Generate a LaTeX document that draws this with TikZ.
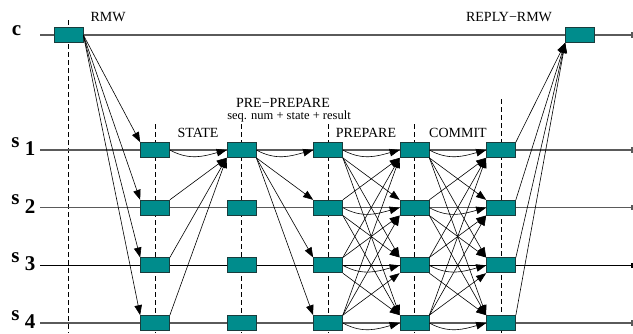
\documentclass[tikz,border=0pt]{standalone}
\usepackage{fontspec}
\setmainfont{Liberation Serif}
\usetikzlibrary{arrows.meta}
\definecolor{boxteal}{RGB}{0,140,140}
\definecolor{boxedge}{RGB}{25,60,60}
\definecolor{linegray}{RGB}{90,90,90}
\begin{document}
\begin{tikzpicture}[x=1pt,y=-1pt,
  box/.style={draw=boxedge, fill=boxteal, line width=0.7pt,
    minimum width=29pt, minimum height=15pt, inner sep=0pt},
  timeline/.style={draw=linegray, line width=1.3pt,
    -{Square[length=2.5pt,width=5.5pt]}},
  msg/.style={draw=black, line width=0.6pt,
    -{Triangle[length=10pt,width=7.5pt]}},
  guide/.style={draw=black, line width=0.6pt, dash pattern=on 5pt off 3pt},
  lbl/.style={font=\fontsize{14}{14}\selectfont, anchor=base, inner sep=0pt},
  small/.style={font=\fontsize{12.5}{12.5}\selectfont, anchor=base, inner sep=0pt},
  proc/.style={font=\fontsize{21}{21}\selectfont\bfseries, anchor=base, inner sep=0pt}]
\useasboundingbox (0,0) rectangle (633,333);

% phase guides
\foreach \n/\x/\t in {g0/68.5/20, g1/155/124, g2/241.5/124, g3/328/124, g4/414.5/124, g5/501/99} {
  \coordinate (\n t) at (\x,\t);
  \coordinate (\n b) at (\x,333);
  \draw[guide] (\n t) -- (\n b);
}

% process time lines
\coordinate (cL) at (40,35);      \coordinate (cR) at (633,35);
\coordinate (s1L) at (40,150);    \coordinate (s1R) at (633,150);
\coordinate (s2L) at (40,207.7);  \coordinate (s2R) at (633,207.7);
\coordinate (s3L) at (40,265.3);  \coordinate (s3R) at (633,265.3);
\coordinate (s4L) at (40,323);    \coordinate (s4R) at (633,323);
\draw[timeline] (cL) -- (cR);
\draw[timeline] (s1L) -- (s1R);
\draw[timeline] (s2L) -- (s2R);
\draw[timeline, draw=black] (s3L) -- (s3R);
\draw[timeline] (s4L) -- (s4R);

% process names
\node[proc] (cn) at (16.5,35) {c};
\foreach \i in {1,...,4} {
  \node[proc] (s\i n) at (15.5,{147+57.67*(\i-1)}) {s};
  \node[proc] (s\i k) at (30,{155.5+57.67*(\i-1)}) {\i};
}

% message boxes
\node[box] (c0) at (68.5,35) {};
\node[box] (rr) at (580,35) {};
\foreach \j in {1,...,5} {
  \foreach \i in {1,...,4} {
    \node[box] (b\j\i) at ({155+86.5*(\j-1)},{150+57.67*(\i-1)}) {};
  }
}

% request to all replicas
\foreach \i in {1,...,4} \draw[msg] (c0.east) -- (b1\i.north west);

% state transfer to the primary
\draw[msg] (b11.east) .. controls +(20,11) and +(-22,6) .. (b21.west);
\foreach \i in {2,3,4} \draw[msg] (b1\i.north east) -- (b21.south west);

% pre-prepare from the primary
\draw[msg] (b21.east) .. controls +(20,11) and +(-22,6) .. (b31.west);
\foreach \i in {2,3,4} \draw[msg] (b21.south east) -- (b3\i.north west);

% prepare and commit: every replica to every replica
\foreach \s/\t in {3/4, 4/5} {
  \foreach \i in {1,...,4} {
    \foreach \k in {1,...,4} {
      \ifnum\i<\k
        \draw[msg] (b\s\i.south east) -- (b\t\k.north west);
      \else\ifnum\i>\k
        \draw[msg] (b\s\i.north east) -- (b\t\k.south west);
      \else
        \draw[msg] (b\s\i.east) .. controls +(20,11) and +(-22,6) .. (b\t\k.west);
      \fi\fi
    }
  }
}

% replies to the client
\foreach \i in {1,...,4} \draw[msg] (b5\i.north east) -- (rr.south west);

% phase labels
\node[lbl] (lrmw) at (108,21) {RMW};
\node[lbl] (lreply) at (509,21) {REPLY−RMW};
\node[lbl] (lpre) at (283,107) {PRE−PREPARE};
\node[small] (lseq) at (289,119.5) {seq. num + state + result};
\node[lbl] (lstate) at (198,137) {STATE};
\node[lbl] (lprep) at (366,137) {PREPARE};
\node[lbl] (lcommit) at (458,137) {COMMIT};
\end{tikzpicture}
\end{document}
